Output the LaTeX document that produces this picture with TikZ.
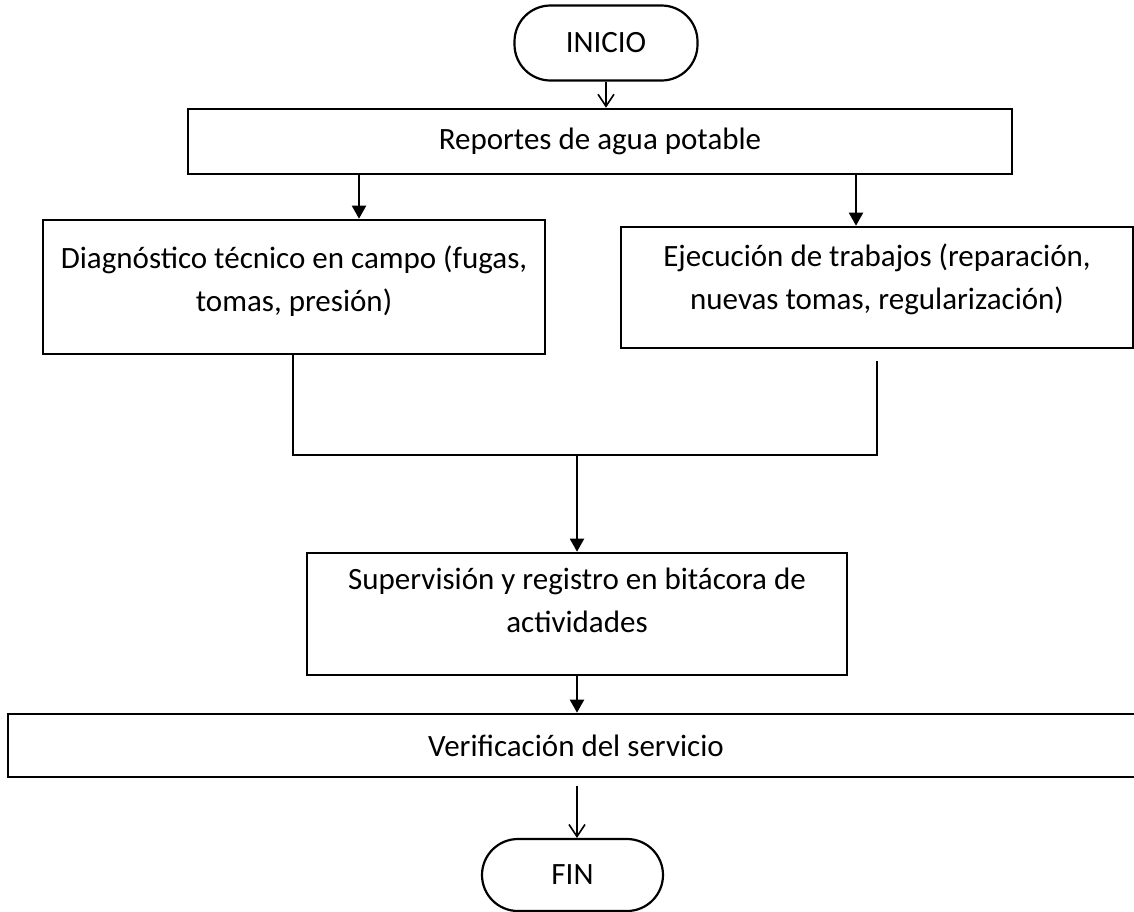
\documentclass[tikz,border=0pt]{standalone}
\usepackage{fontspec}
\setmainfont{Carlito}
\usetikzlibrary{arrows.meta,calc}

\begin{document}
\begin{tikzpicture}[
    x=0.5pt, y=-0.5pt,
    box/.style={draw, line width=1.3pt, align=center, inner sep=0pt,
                font=\fontsize{15.5}{21.5}\selectfont},
    term/.style={box, line width=1.1pt, rounded corners=18pt},
    arr/.style={-{Triangle[length=6.5pt, width=7pt]}, line width=1pt},
    openarr/.style={-{Straight Barb[length=6pt, width=8pt]}, line width=0.8pt},
]
\useasboundingbox (0,0) rectangle (1134,911);

% Start and report intake
\node[term, minimum width=91.5pt, minimum height=37.5pt] (inicio) at (606,43) {INICIO};
\node[box, minimum width=412pt, minimum height=32.5pt] (rep) at (600,141.5) {Reportes de agua potable};

% Two parallel branches
\node[box, minimum width=251pt, minimum height=67pt] (diag) at (294,287)
    {Diagnóstico técnico en campo (fugas,\\ tomas, presión)\\[-13pt]\mbox{}};
\node[box, minimum width=256pt, minimum height=60.5pt] (ejec) at (877,287.5)
    {Ejecución de trabajos (reparación,\\ nuevas tomas, regularización)\\[-11pt]\mbox{}};

% Supervision, check and end
\node[box, minimum width=270pt, minimum height=61pt] (sup) at (577,614)
    {Supervisión y registro en bitácora de\\ actividades\\[-7.5pt]\mbox{}};
\node[box, minimum width=568pt, minimum height=31.5pt] (ver) at (576,745.5) {Verificación del servicio};
\node[term, minimum width=90.5pt, minimum height=36pt] (fin) at (572.5,875) {FIN};

\coordinate (join) at (577,455);

% Connectors
\draw[openarr] (inicio.south) -- (inicio.south |- rep.north);
\draw[arr] (359,0 |- rep.south) -- (359,0 |- diag.north);
\draw[arr] (856,0 |- rep.south) -- (856,0 |- ejec.north);
\draw[line width=1pt] (293,0 |- diag.south) |- (join);
\draw[line width=1pt] ($(ejec.south)+(0,12)$) |- (join);
\draw[arr] (join) -- (join |- sup.north);
\draw[arr] (join |- sup.south) -- (join |- ver.north);
\draw[openarr] ($(join |- ver.south)+(0,8)$) -- (join |- fin.north);
\end{tikzpicture}
\end{document}
